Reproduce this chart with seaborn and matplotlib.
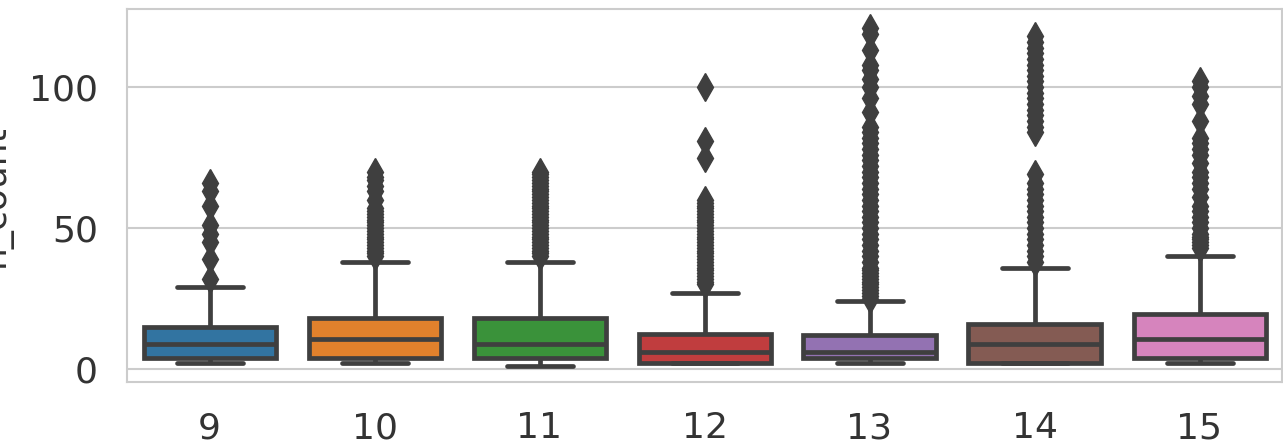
import matplotlib
matplotlib.use("Agg")
import numpy as np
import pandas as pd
import matplotlib.pyplot as plt
import seaborn as sns

# ---- data ----
days = ["9", "10", "11", "12", "13", "14", "15"]
whisker_low = [2, 2, 1, 2, 2, 2, 2]
quartile_1 = [4, 4, 4, 2, 4, 2, 4]
medians = [9, 10.5, 9, 6, 6, 9, 10.5]
quartile_3 = [15, 18, 18, 12.5, 12, 16, 19.5]
whisker_high = [29, 38, 38, 27, 24, 36, 40]

fliers_9 = [32, 39, 45, 48, 51, 58, 63, 66]
fliers_10 = [40, 41, 42, 43, 44, 45, 46, 47, 48, 49, 50, 51, 52, 53, 54, 55, 56,
             57, 60, 63, 65, 67, 68, 70]
fliers_11 = [40, 41, 42, 43, 44, 45, 46, 47, 48, 49, 50, 51, 52, 53, 54, 55, 56,
             57, 58, 59, 60, 61, 62, 63, 64, 65, 66, 67, 68, 69, 70]
fliers_12 = [30, 31, 32, 33, 34, 35, 36, 37, 38, 39, 40, 41, 42, 43, 44, 45, 46,
             47, 48, 49, 50, 51, 52, 53, 54, 55, 56, 57, 58, 59, 60, 75, 81, 100]
fliers_13 = [25, 26, 27, 28, 29, 30, 31, 32, 33, 34, 35, 36, 38, 40, 42, 44, 46,
             48, 50, 52, 54, 56, 58, 60, 62, 64, 66, 68, 70, 72, 74, 76, 78, 80,
             82, 84, 86, 91, 96, 100, 103, 106, 108, 113, 119, 121]
fliers_14 = [38, 40, 42, 44, 46, 48, 50, 52, 54, 56, 58, 60, 62, 64, 66, 69,
             84, 86, 88, 90, 92, 94, 96, 98, 100, 102, 104, 106, 108, 110, 112,
             114, 116, 118]
fliers_15 = [43, 44, 45, 46, 47, 48, 50, 52, 54, 56, 58, 61, 64, 66, 68, 70, 73,
             76, 78, 80, 82, 88, 94, 97, 100, 102]
fliers = [fliers_9, fliers_10, fliers_11, fliers_12, fliers_13, fliers_14, fliers_15]

# Build a table whose quartiles / whiskers reproduce the read statistics
BLOCK = 100
rows_day, rows_val = [], []
for d, lo, a, m, b, hi, fl in zip(days, whisker_low, quartile_1, medians,
                                   quartile_3, whisker_high, fliers):
    vals = [lo] + [a] * BLOCK + [m] * BLOCK + [b] * BLOCK + [hi] + list(fl)
    rows_day += [d] * len(vals)
    rows_val += vals
df = pd.DataFrame({"day": rows_day, "n_count": rows_val})

# ---- styling ----
sns.set_theme(style="whitegrid")
plt.rcParams["font.family"] = ["DejaVu Sans"]
plt.rcParams["axes.edgecolor"] = "#cccccc"
plt.rcParams["grid.color"] = "#cccccc"

W, H = 1283, 444
fig = plt.figure(figsize=(W / 100, H / 100), dpi=100)
ax = fig.add_axes([127 / W, (H - 382) / H, (1282 - 127) / W, (382 - 9) / H])

line_c = "#3f3f3f"
sns.boxplot(data=df, x="day", y="n_count", hue="day", order=days, hue_order=days,
            palette="tab10", legend=False, saturation=0.75, width=0.8,
            linecolor=line_c, linewidth=3.4, fliersize=14,
            flierprops=dict(marker="d", markerfacecolor=line_c,
                            markeredgecolor=line_c, markersize=14),
            ax=ax)

ax.set_ylim(-4.6, 127.7)
ax.set_yticks([0, 50, 100])
ax.set_xlabel("")
ax.set_ylabel("n_count", fontsize=26, color=".2", labelpad=12)
ax.tick_params(axis="both", labelsize=26, labelcolor=".2", pad=21, length=0)
ax.grid(True, axis="y", color="#cccccc", linewidth=1.5)
ax.grid(False, axis="x")
for s in ax.spines.values():
    s.set_color("#cccccc")
    s.set_linewidth(1.5)

fig.savefig("out.png", dpi=100)
